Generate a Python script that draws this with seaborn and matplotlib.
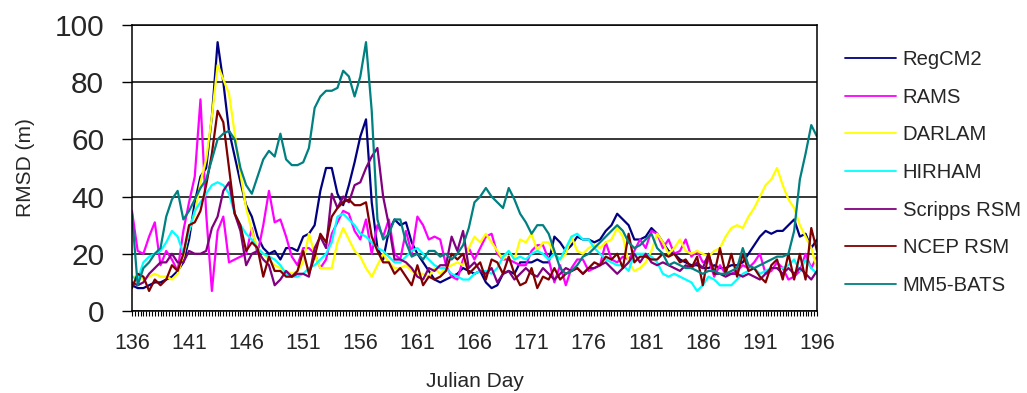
import numpy as np
import pandas as pd
import matplotlib
matplotlib.use('Agg')
import matplotlib.pyplot as plt
from matplotlib.ticker import MultipleLocator
import seaborn as sns

# half-day samples, julian day 136 .. 196 (each row = 5 days)
days = np.arange(136, 196.01, 0.5)

models = ['RegCM2', 'RAMS', 'DARLAM', 'HIRHAM', 'Scripps RSM', 'NCEP RSM', 'MM5-BATS']
colors = ['#000080', '#FF00FF', '#FFFF00', '#00FFFF', '#800080', '#800000', '#008080']

regcm2 = [9, 8, 8, 9, 10, 10, 11, 12, 14, 17,
          25, 38, 47, 50, 68, 94, 80, 63, 54, 45,
          37, 33, 26, 22, 20, 21, 18, 22, 22, 21,
          26, 27, 30, 42, 50, 50, 41, 37, 44, 52,
          61, 67, 38, 22, 18, 28, 32, 30, 31, 24,
          20, 17, 14, 11, 10, 11, 12, 13, 15, 14,
          13, 14, 10, 8, 9, 13, 14, 13, 17, 17,
          17, 18, 17, 17, 26, 24, 21, 23, 26, 25,
          25, 24, 25, 28, 30, 34, 32, 30, 25, 25,
          26, 29, 27, 24, 21, 20, 18, 17, 16, 16,
          15, 15, 16, 15, 15, 16, 16, 17, 20, 23,
          26, 28, 27, 28, 28, 30, 32, 26, 27, 22,
          25]

rams = [35, 21, 20, 26, 31, 16, 21, 18, 14, 28,
        38, 47, 74, 34, 7, 28, 33, 17, 18, 19,
        20, 29, 20, 30, 42, 31, 32, 26, 19, 16,
        22, 22, 20, 15, 18, 27, 31, 35, 34, 28,
        25, 32, 20, 30, 26, 32, 20, 18, 28, 20,
        33, 30, 25, 26, 25, 16, 12, 11, 18, 22,
        18, 22, 26, 27, 20, 18, 18, 17, 16, 16,
        21, 23, 23, 18, 10, 16, 9, 15, 18, 18,
        14, 15, 16, 24, 18, 17, 19, 18, 21, 25,
        22, 28, 27, 22, 25, 20, 21, 25, 19, 21,
        17, 18, 12, 16, 13, 13, 14, 16, 15, 17,
        20, 13, 14, 17, 15, 11, 12, 14, 20, 15,
        19]

darlam = [12, 12, 11, 12, 13, 12, 12, 11, 13, 19,
          28, 34, 45, 53, 68, 86, 81, 76, 62, 48,
          36, 28, 22, 20, 18, 16, 15, 14, 13, 14,
          17, 27, 20, 15, 15, 15, 24, 29, 25, 21,
          19, 15, 12, 16, 20, 17, 15, 15, 16, 14,
          13, 13, 12, 15, 13, 15, 16, 17, 16, 22,
          26, 24, 27, 24, 21, 18, 21, 18, 25, 24,
          27, 21, 24, 24, 20, 18, 20, 26, 21, 20,
          22, 23, 22, 24, 25, 29, 26, 17, 14, 15,
          17, 21, 27, 24, 20, 22, 25, 21, 20, 21,
          20, 19, 21, 22, 26, 29, 30, 29, 33, 36,
          40, 44, 46, 50, 44, 39, 36, 30, 26, 22,
          15]

hirham = [12, 11, 17, 19, 20, 21, 24, 28, 26, 20,
          28, 35, 38, 41, 44, 45, 44, 41, 34, 30,
          27, 25, 22, 20, 19, 18, 16, 13, 12, 12,
          13, 15, 16, 18, 20, 24, 33, 34, 32, 30,
          27, 26, 24, 22, 21, 19, 17, 17, 19, 21,
          22, 20, 18, 16, 15, 15, 13, 12, 11, 11,
          13, 14, 14, 13, 15, 19, 21, 18, 19, 18,
          20, 21, 20, 18, 20, 18, 22, 26, 27, 25,
          25, 22, 20, 18, 17, 16, 16, 14, 20, 20,
          20, 19, 17, 13, 12, 13, 12, 11, 10, 7,
          9, 12, 11, 9, 9, 9, 11, 13, 14, 15,
          13, 14, 15, 15, 15, 16, 18, 14, 18, 15,
          13]

scripps = [10, 9, 10, 13, 15, 17, 17, 20, 17, 17,
           21, 20, 20, 21, 29, 33, 42, 45, 34, 28,
           16, 20, 21, 18, 16, 9, 11, 14, 12, 13,
           13, 12, 22, 26, 22, 41, 36, 40, 38, 44,
           45, 50, 54, 57, 40, 30, 18, 18, 17, 15,
           12, 11, 15, 14, 16, 16, 26, 21, 28, 15,
           17, 14, 13, 15, 10, 13, 14, 11, 13, 15,
           13, 12, 15, 13, 11, 13, 15, 14, 15, 13,
           15, 15, 16, 17, 15, 13, 15, 17, 20, 17,
           20, 17, 16, 17, 16, 15, 14, 16, 15, 17,
           15, 20, 13, 13, 12, 13, 13, 12, 13, 12,
           11, 13, 15, 15, 13, 15, 13, 15, 13, 11,
           14]

ncep = [8, 13, 12, 7, 11, 9, 11, 16, 14, 20,
        30, 31, 35, 44, 55, 70, 66, 50, 34, 30,
        21, 24, 22, 12, 19, 14, 14, 12, 12, 14,
        21, 13, 19, 27, 24, 33, 36, 38, 39, 37,
        37, 38, 26, 21, 17, 17, 13, 15, 12, 9,
        16, 9, 12, 11, 12, 14, 20, 18, 20, 13,
        15, 17, 11, 18, 17, 13, 19, 13, 9, 10,
        15, 8, 12, 11, 15, 11, 13, 14, 15, 13,
        15, 17, 16, 19, 18, 20, 15, 27, 17, 19,
        19, 18, 18, 20, 19, 20, 17, 18, 15, 19,
        9, 20, 13, 22, 13, 20, 12, 20, 14, 15,
        12, 10, 16, 18, 11, 20, 11, 20, 11, 29,
        21]

mm5 = [34, 9, 15, 17, 20, 22, 33, 39, 42, 32,
       35, 39, 43, 46, 53, 60, 62, 63, 60, 50,
       44, 41, 47, 53, 56, 54, 62, 53, 51, 51,
       52, 57, 71, 75, 77, 77, 78, 84, 82, 75,
       82, 94, 70, 32, 25, 27, 32, 32, 24, 19,
       20, 18, 21, 21, 19, 20, 18, 20, 23, 29,
       38, 40, 43, 40, 38, 36, 43, 39, 34, 31,
       27, 30, 30, 27, 21, 15, 13, 14, 16, 19,
       20, 22, 24, 26, 28, 30, 28, 24, 22, 23,
       25, 27, 22, 20, 16, 17, 16, 15, 15, 14,
       13, 14, 14, 13, 13, 14, 15, 22, 16, 15,
       16, 17, 18, 19, 19, 20, 28, 46, 55, 65,
       61]

series = [regcm2, rams, darlam, hirham, scripps, ncep, mm5]
df = pd.concat([pd.DataFrame({'day': days, 'rmsd': vals, 'model': name})
                for name, vals in zip(models, series)], ignore_index=True)

sns.set_theme(style='white')
plt.rcParams['font.family'] = ['Liberation Sans', 'DejaVu Sans']

fig = plt.figure(figsize=(10.27, 3.93), dpi=100)
ax = fig.add_axes([0.1285, 0.2087, 0.667, 0.7277])

sns.lineplot(data=df, x='day', y='rmsd', hue='model', hue_order=models,
             palette=dict(zip(models, colors)), linewidth=1.6, ax=ax)

ax.set_xlim(136, 196)
ax.set_ylim(0, 100)
ax.set_yticks(range(0, 101, 20))
ax.set_xticks(range(136, 197, 5))
ax.xaxis.set_minor_locator(MultipleLocator(0.25))
ax.yaxis.grid(True, color='black', linewidth=1.1)
ax.set_axisbelow(True)
for s in ax.spines.values():
    s.set_color('black')
    s.set_linewidth(1.1)

ax.tick_params(axis='y', which='major', direction='out', length=7, width=1,
               color='black', labelsize=21.5, pad=13, left=True)
ax.tick_params(axis='x', which='both', direction='out', length=3.5, width=0.8,
               color='black', labelsize=15.5, pad=12, bottom=True)

ax.set_xlabel('Julian Day', fontsize=15, labelpad=13)
ax.set_ylabel('RMSD (m)', fontsize=15, labelpad=14)

handles, labels = ax.get_legend_handles_labels()
leg = ax.legend(handles, labels, loc='upper left', bbox_to_anchor=(845 / 1027, 1 - 50 / 393),
                bbox_transform=fig.transFigure, frameon=False, fontsize=14.6,
                handlelength=2.5, handletextpad=0.35, labelspacing=0.92,
                borderpad=0, borderaxespad=0)
for line in leg.get_lines():
    line.set_linewidth(1.3)

fig.savefig('out.png', dpi=100)
